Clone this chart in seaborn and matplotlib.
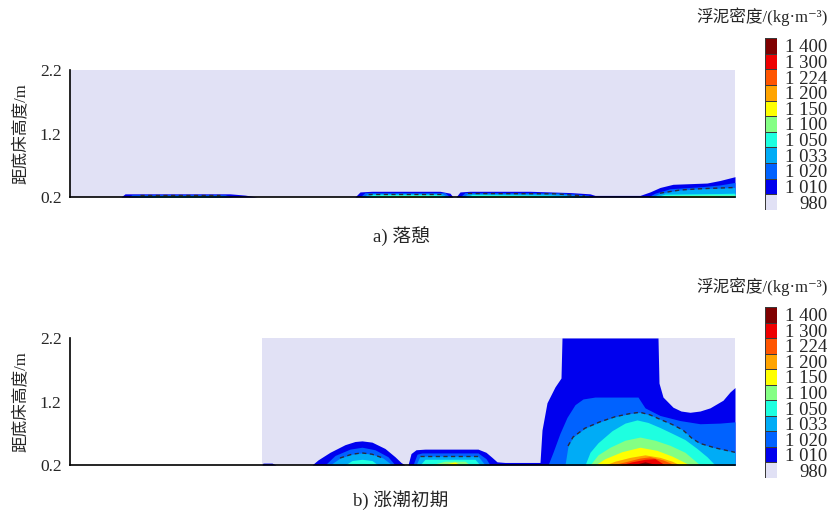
import numpy as np
import matplotlib
matplotlib.use('Agg')
import matplotlib.pyplot as plt
import seaborn as sns
from matplotlib.colors import ListedColormap

# density classes of the legend (kg/m3)
levels = [980, 1010, 1020, 1033, 1050, 1100, 1150, 1200, 1224, 1300, 1400]
level_labels = ['980', '1 010', '1 020', '1 033', '1 050', '1 100',
                '1 150', '1 200', '1 224', '1 300', '1 400']
level_colors = ['#e1e1f5', '#0000ee', '#0062ff', '#00acf6', '#1effe0', '#84ff84',
                '#ffff00', '#ffa400', '#ff5500', '#ee0000', '#800000']
yticks = [0.2, 1.2, 2.2]

# section extent (distance along transect, arbitrary units)
slack_extent = [70, 735]
flood_extent = [262, 735]

# a) slack water: top height (m above bed) of each density class, (distance, height)
slack_1010 = [
    [(121, .20), (125, .25), (230, .25), (245, .23), (257, .20)],
    [(355, .20), (360, .28), (372, .29), (440, .29), (450, .26), (453, .20)],
    [(456, .20), (460, .28), (470, .29), (530, .29), (570, .27), (590, .25), (595, .225),
     (640, .225), (650, .28), (660, .35), (673, .40), (707, .42), (720, .46), (735, .52)],
]
slack_1020 = [
    [(128, .20), (132, .235), (225, .235), (232, .20)],
    [(360, .20), (365, .27), (445, .27), (450, .20)],
    [(460, .20), (465, .27), (560, .265), (588, .23), (593, .20)],
    [(648, .20), (655, .26), (670, .33), (700, .36), (720, .39), (735, .43)],
]
slack_1033 = [
    [(135, .20), (140, .225), (220, .225), (226, .20)],
    [(363, .20), (368, .255), (442, .255), (448, .20)],
    [(463, .20), (468, .255), (555, .25), (585, .215), (590, .20)],
    [(652, .20), (660, .26), (680, .31), (700, .33), (735, .35)],
]
slack_1050 = [
    [(150, .20), (160, .215), (200, .215), (210, .20)],
    [(367, .20), (372, .24), (440, .24), (445, .20)],
    [(466, .20), (472, .24), (550, .23), (575, .20)],
    [(655, .20), (665, .245), (720, .255), (735, .26)],
]
slack_1100 = [
    [(375, .20), (385, .225), (430, .225), (440, .20)],
    [(475, .20), (485, .225), (540, .215), (555, .20)],
    [(660, .20), (670, .225), (715, .23), (735, .23)],
]
slack_1150 = [
    [(390, .20), (400, .213), (420, .213), (428, .20)],
    [(490, .20), (500, .212), (525, .212), (535, .20)],
    [(670, .20), (680, .213), (710, .213), (718, .20)],
]

# b) early flood
flood_1010 = [
    [(262, .20), (263, .23), (272, .23), (276, .20)],
    [(312, .20), (318, .28), (330, .40), (345, .52), (355, .57), (362, .58), (372, .56),
     (385, .46), (395, .33), (401, .24), (405, .20)],
    [(408, .20), (411, .38), (416, .44), (425, .45), (478, .45), (486, .40), (492, .32),
     (497, .25), (505, .24), (540, .24), (542, .75), (547, 1.18), (555, 1.43),
     (561, 1.57), (562, 2.2), (658, 2.2), (659, 1.49), (663, 1.27), (673, 1.11),
     (681, 1.05), (690, 1.03), (700, 1.05), (710, 1.10), (723, 1.22), (730, 1.35),
     (735, 1.42)],
]
flood_1020 = [
    [(325, .20), (335, .35), (350, .45), (362, .48), (375, .44), (388, .33), (395, .20)],
    [(413, .20), (417, .37), (422, .39), (478, .39), (486, .30), (490, .20)],
    [(548, .20), (553, .40), (560, .70), (567, .95), (575, 1.15), (583, 1.24),
     (595, 1.27), (638, 1.27), (645, 1.10), (660, .98), (680, .90), (700, .85),
     (720, .86), (735, .88)],
]
flood_1033 = [
    [(330, .20), (340, .31), (352, .37), (362, .39), (372, .37), (383, .31), (392, .20)],
    [(416, .20), (420, .34), (478, .34), (485, .20)],
    [(565, .20), (568, .50), (573, .64), (585, .78), (600, .88), (615, .96), (630, 1.01),
     (640, 1.03), (650, .99), (660, .92), (672, .84), (683, .75), (692, .62),
     (700, .54), (715, .47), (735, .40)],
]
flood_1050 = [
    [(345, .20), (352, .27), (362, .29), (372, .27), (378, .20)],
    [(420, .20), (425, .29), (475, .29), (480, .20)],
    [(585, .20), (590, .40), (598, .55), (612, .74), (625, .86), (637, .91), (648, .87),
     (660, .79), (672, .70), (685, .60), (697, .46), (707, .33), (715, .20)],
]
flood_1100 = [
    [(430, .20), (445, .26), (465, .26), (470, .20)],
    [(590, .20), (598, .36), (610, .48), (625, .59), (640, .64), (655, .59), (670, .51),
     (685, .40), (700, .20)],
]
flood_1150 = [
    [(440, .20), (455, .25), (460, .20)],
    [(595, .20), (605, .30), (622, .41), (640, .48), (657, .43), (672, .34), (690, .20)],
]
flood_1200 = [[(605, .20), (615, .26), (630, .32), (645, .36), (660, .32), (672, .26), (680, .20)]]
flood_1224 = [[(612, .20), (625, .25), (640, .31), (650, .33), (663, .28), (675, .20)]]
flood_1300 = [[(620, .20), (632, .25), (645, .29), (655, .30), (665, .20)]]
flood_1400 = [[(632, .20), (645, .25), (658, .20)]]

sns.set_style('white')
plt.rcParams['font.family'] = ['Liberation Serif', 'Noto Sans CJK SC', 'DejaVu Serif']
plt.rcParams['axes.unicode_minus'] = False


def draw_panel(ax, extent, layers):
    ax.fill_between(extent, yticks[0], yticks[-1], color=level_colors[0], lw=0)
    for lev, segs in layers:
        col = level_colors[levels.index(lev)]
        for seg in segs:
            xs, hs = zip(*seg)
            ax.fill_between(xs, yticks[0], hs, color=col, lw=0)
    # dashed line along the top of the 1033 class
    for lev, segs in layers:
        if lev != 1033:
            continue
        for seg in segs:
            xs, hs = zip(*seg[1:] if seg[-1][1] > 0.2 else seg[1:-1])
            sns.lineplot(x=list(xs), y=list(hs), ax=ax, color='#2b2b3a', lw=1.0,
                         linestyle=(0, (3, 2.5)), sort=False)
    ax.set_xlim(70, 735)
    ax.set_ylim(yticks[0], yticks[-1])
    ax.set_xticks([])
    ax.set_yticks(yticks)
    ax.set_yticklabels([f'{v:.1f}' for v in yticks])
    ax.tick_params(axis='y', direction='in', length=5, width=1, labelsize=12.5, pad=6)
    for s in ['top', 'right']:
        ax.spines[s].set_visible(False)
    for s in ['left', 'bottom']:
        ax.spines[s].set_color('black')
        ax.spines[s].set_linewidth(1.2)
    ax.set_ylabel('距底床高度/m', fontsize=12)
    ax.yaxis.set_label_coords(-0.062, 0.5)


def draw_key(cax):
    sns.heatmap(np.arange(len(levels) - 1, -1, -1).reshape(-1, 1),
                cmap=ListedColormap(level_colors), vmin=-0.5, vmax=len(levels) - 0.5,
                cbar=False, linewidths=0.7, linecolor='#3a3a3a',
                xticklabels=False, yticklabels=level_labels[::-1], ax=cax)
    cax.yaxis.tick_right()
    cax.set_yticklabels(level_labels[::-1], ha='right', rotation=0, fontsize=13.5)
    cax.tick_params(axis='y', length=0, pad=36.5)


fig = plt.figure(figsize=(8.3, 5.13), dpi=100)
W, H = 830, 513

ax_a = fig.add_axes([70 / W, 1 - 197 / H, 665 / W, 127 / H])
ax_b = fig.add_axes([70 / W, 1 - 465 / H, 665 / W, 127 / H])

draw_panel(ax_a, slack_extent, [(1010, slack_1010), (1020, slack_1020), (1033, slack_1033),
                                (1050, slack_1050), (1100, slack_1100), (1150, slack_1150)])
draw_panel(ax_b, flood_extent, [(1010, flood_1010), (1020, flood_1020), (1033, flood_1033),
                                (1050, flood_1050), (1100, flood_1100), (1150, flood_1150),
                                (1200, flood_1200), (1224, flood_1224), (1300, flood_1300),
                                (1400, flood_1400)])

cax_a = fig.add_axes([765 / W, 1 - 210 / H, 12 / W, 172 / H])
cax_b = fig.add_axes([765 / W, 1 - 478 / H, 12 / W, 171 / H])
draw_key(cax_a)
draw_key(cax_b)

key_title = '浮泥密度/(kg·m⁻³)'
fig.text(828 / W, 1 - 17 / H, key_title, ha='right', va='center', fontsize=12)
fig.text(828 / W, 1 - 287 / H, key_title, ha='right', va='center', fontsize=12)

fig.text(401 / W, 1 - 236 / H, 'a) 落憩', ha='center', va='center', fontsize=13.5)
fig.text(401 / W, 1 - 500 / H, 'b) 涨潮初期', ha='center', va='center', fontsize=13.5)

fig.savefig('out.png', dpi=100)
